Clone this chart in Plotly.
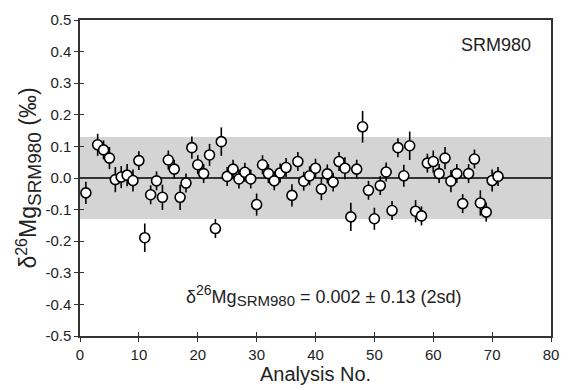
import plotly.graph_objects as go

analysis_no = [1, 3, 4, 5, 6, 7, 8, 9, 10, 11, 12, 13, 14, 15, 16, 17, 18, 19, 20,
               21, 22, 23, 24, 25, 26, 27, 28, 29, 30, 31, 32, 33, 34, 35, 36, 37,
               38, 39, 40, 41, 42, 43, 44, 45, 46, 47, 48, 49, 50, 51, 52, 53, 54,
               55, 56, 57, 58, 59, 60, 61, 62, 63, 64, 65, 66, 67, 68, 69, 70, 71]
delta_mg = [-0.047, 0.105, 0.089, 0.063, -0.005, 0.003, 0.009, -0.008, 0.055, -0.189,
            -0.053, -0.009, -0.061, 0.057, 0.028, -0.061, -0.016, 0.096, 0.042, 0.014,
            0.073, -0.160, 0.115, 0.005, 0.028, -0.003, 0.018, -0.003, -0.084, 0.042,
            0.014, -0.009, 0.016, 0.033, -0.055, 0.052, -0.010, 0.007, 0.031, -0.035,
            0.013, -0.013, 0.052, 0.031, -0.123, 0.028, 0.162, -0.039, -0.129, -0.024,
            0.019, -0.103, 0.096, 0.007, 0.102, -0.105, -0.120, 0.047, 0.052, 0.014,
            0.063, -0.010, 0.014, -0.081, 0.014, 0.060, -0.079, -0.108, -0.008, 0.005]
err_2sd = [0.035, 0.035, 0.03, 0.035, 0.04, 0.035, 0.035, 0.035, 0.03, 0.045,
           0.03, 0.03, 0.04, 0.03, 0.03, 0.04, 0.03, 0.035, 0.03, 0.03,
           0.035, 0.03, 0.045, 0.03, 0.03, 0.03, 0.03, 0.03, 0.035, 0.03,
           0.03, 0.03, 0.03, 0.03, 0.035, 0.03, 0.03, 0.03, 0.03, 0.035,
           0.03, 0.03, 0.03, 0.035, 0.045, 0.03, 0.05, 0.03, 0.035, 0.03,
           0.03, 0.03, 0.03, 0.035, 0.045, 0.035, 0.03, 0.03, 0.035, 0.03,
           0.035, 0.035, 0.03, 0.03, 0.03, 0.03, 0.04, 0.03, 0.035, 0.03]

mean_val = 0.002
band_2sd = 0.13
x_range = [0, 80]
y_range = [-0.5, 0.5]
x_ticks = [0, 10, 20, 30, 40, 50, 60, 70, 80]
y_ticks = [-0.5, -0.4, -0.3, -0.2, -0.1, 0.0, 0.1, 0.2, 0.3, 0.4, 0.5]
y_ticklabels = ["-0.5", "-0.4", "-0.3", "-0.2", "-0.1", "0.0", "0.1", "0.2", "0.3", "0.4", "0.5"]

font = "Liberation Sans, Arial, Helvetica, sans-serif"

fig = go.Figure()

fig.add_trace(go.Scatter(
    x=analysis_no, y=delta_mg, mode="markers",
    error_y=dict(type="data", array=err_2sd, color="black", thickness=1.6, width=0),
    marker=dict(size=10, color="white", line=dict(color="black", width=1.6)),
    showlegend=False,
))

# dummy trace for secondary axes (inside ticks)
fig.add_trace(go.Scatter(x=[None], y=[None], xaxis="x2", yaxis="y2", showlegend=False))

fig.add_shape(type="rect", xref="x", yref="y", x0=x_range[0], x1=x_range[1],
              y0=-band_2sd, y1=band_2sd, fillcolor="#d4d4d4", line=dict(width=0),
              layer="below")
fig.add_shape(type="line", xref="x", yref="y", x0=x_range[0], x1=x_range[1],
              y0=0, y1=0, line=dict(color="black", width=1.3), layer="below")

axis_common = dict(showgrid=False, zeroline=False, linecolor="#333", linewidth=1.5,
                   tickcolor="#333", tickwidth=1.3, mirror=True, showline=True)

y_title = ('δ<sup><span style="font-size:16px">26</span></sup>Mg'
           '<sub><span style="font-size:19px">SRM980</span></sub> (‰)')
note = (f'δ<sup><span style="font-size:14px">26</span></sup>Mg'
        f'<sub><span style="font-size:15px">SRM980</span></sub> = {mean_val:.3f} ± {band_2sd} (2sd)')

fig.update_layout(
    width=570, height=390,
    margin=dict(l=80, r=11, t=20, b=52),
    paper_bgcolor="white", plot_bgcolor="white",
    font=dict(family=font, color="#222", size=15),
    xaxis=dict(range=x_range, tickvals=x_ticks, ticks="outside", ticklen=4,
               title=dict(text="Analysis No.", font=dict(size=20), standoff=2),
               tickfont=dict(size=15), **axis_common),
    yaxis=dict(range=y_range, tickvals=y_ticks, ticktext=y_ticklabels,
               ticks="outside", ticklen=4,
               title=dict(text=y_title, font=dict(size=23), standoff=2),
               tickfont=dict(size=15), **axis_common),
    xaxis2=dict(range=x_range, tickvals=x_ticks, ticks="inside", ticklen=4,
                overlaying="x", showticklabels=False, showgrid=False, zeroline=False,
                tickcolor="#333", tickwidth=1.3, showline=False),
    yaxis2=dict(range=y_range, tickvals=y_ticks, ticks="inside", ticklen=4,
                overlaying="y", showticklabels=False, showgrid=False, zeroline=False,
                tickcolor="#333", tickwidth=1.3, showline=False),
)

fig.add_annotation(x=77, y=0.42, xref="x", yref="y", text="SRM980", showarrow=False,
                   xanchor="right", yanchor="middle", font=dict(size=18, color="#222"))
fig.add_annotation(x=41.4, y=-0.373, xref="x", yref="y", text=note,
                   showarrow=False, xanchor="center", yanchor="middle",
                   font=dict(size=18, color="#222"))

fig.write_html("out.html")
